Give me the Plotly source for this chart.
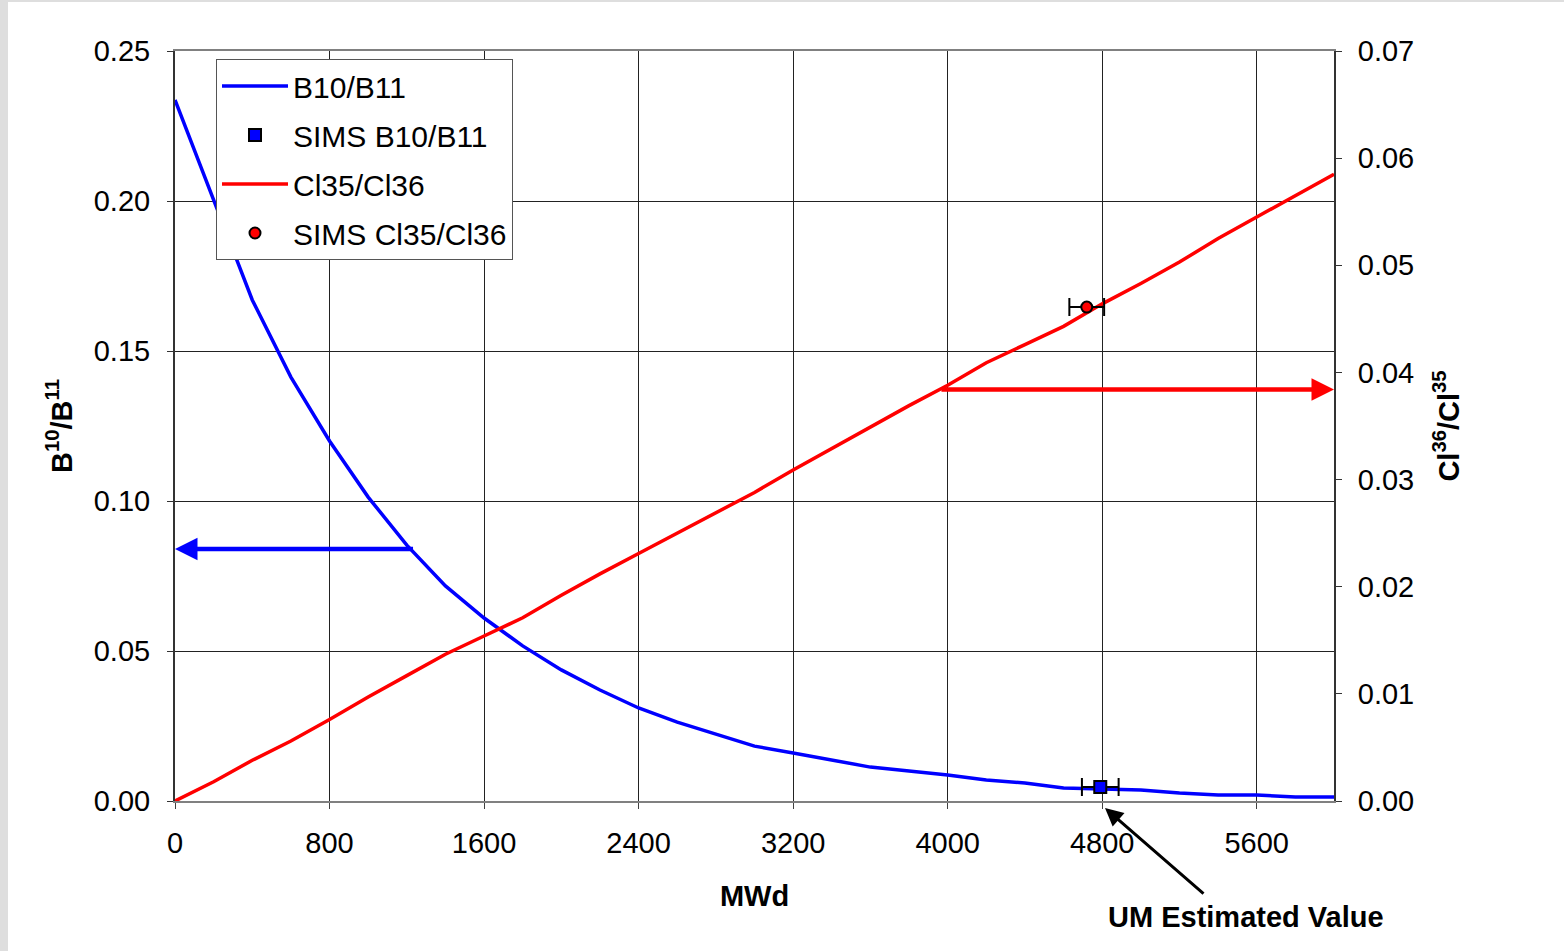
import plotly.graph_objects as go

# ---- data ----
mwd = [0, 200, 400, 600, 800, 1000, 1200, 1400, 1600, 1800, 2000, 2200, 2400, 2600, 2800,
       3000, 3200, 3400, 3600, 3800, 4000, 4200, 4400, 4600, 4800, 5000, 5200, 5400, 5600,
       5800, 6000]
b10_b11 = [0.2337, 0.200, 0.167, 0.1413, 0.120, 0.1013, 0.0853, 0.0717, 0.061, 0.0517,
           0.0437, 0.037, 0.031, 0.0263, 0.0223, 0.0183, 0.016, 0.0137, 0.0113, 0.010,
           0.0087, 0.007, 0.006, 0.0043, 0.004, 0.0037, 0.0027, 0.002, 0.002, 0.0013, 0.0013]
cl_ratio = [0.0, 0.0018, 0.0038, 0.0056, 0.0076, 0.0097, 0.0117, 0.0137, 0.0154, 0.0171,
            0.0192, 0.0212, 0.0231, 0.0250, 0.0269, 0.0288, 0.0309, 0.0329, 0.0349, 0.0369,
            0.0388, 0.0409, 0.0426, 0.0443, 0.0464, 0.0483, 0.0503, 0.0525, 0.0545, 0.0565,
            0.0585]
sims_b_x = [4790]
sims_b_y = [0.0047]
sims_b_err = [95]
sims_cl_x = [4720]
sims_cl_y = [0.0461]
sims_cl_err = [90]

x_ticks = [0, 800, 1600, 2400, 3200, 4000, 4800, 5600]

FONT = "Liberation Sans, Arial, sans-serif"
FS = 29
FSL = 30

fig = go.Figure()
fig.add_trace(go.Scatter(x=mwd, y=b10_b11, mode="lines", name="B10/B11", legendgroup="a",
                         line=dict(color="#0000FF", width=3.5)))
fig.add_trace(go.Scatter(x=sims_b_x, y=sims_b_y, mode="markers", name="SIMS B10/B11",
                         legendgroup="b",
                         marker=dict(symbol="square", color="#0000FF", size=12,
                                     line=dict(color="black", width=2)),
                         error_x=dict(type="data", array=sims_b_err, color="black",
                                      thickness=2, width=9)))
fig.add_trace(go.Scatter(x=mwd, y=cl_ratio, mode="lines", name="Cl35/Cl36", yaxis="y2",
                         legendgroup="c",
                         line=dict(color="#FF0000", width=3.5)))
fig.add_trace(go.Scatter(x=sims_cl_x, y=sims_cl_y, mode="markers", name="SIMS Cl35/Cl36",
                         yaxis="y2", legendgroup="d",
                         marker=dict(symbol="circle", color="#FF0000", size=11,
                                     line=dict(color="black", width=2)),
                         error_x=dict(type="data", array=sims_cl_err, color="black",
                                      thickness=2, width=9)))

W, H = 1564, 951
L, R, T, B = 175, 230, 51, 150
pw, ph = W - L - R, H - T - B


def px_x(p):
    return (p - L) / pw


def px_y(p):
    return (H - B - p) / ph


annotations = [
    dict(x=0, y=0.084, xref="x", yref="y", ax=1240, ay=0.084, axref="x", ayref="y",
         text="", showarrow=True, arrowhead=2, arrowsize=1.0, arrowwidth=4.5,
         arrowcolor="#0000FF"),
    dict(x=6000, y=0.0384, xref="x", yref="y2", ax=3960, ay=0.0384, axref="x", ayref="y2",
         text="", showarrow=True, arrowhead=2, arrowsize=1.0, arrowwidth=4.5,
         arrowcolor="#FF0000"),
    dict(x=px_x(1105), y=px_y(808), xref="paper", yref="paper", ax=100, ay=87,
         text="", showarrow=True, arrowhead=2, arrowsize=1.2, arrowwidth=3,
         arrowcolor="black"),
    dict(x=px_x(1246), y=px_y(917), xref="paper", yref="paper", showarrow=False,
         text="<b>UM Estimated Value</b>", font=dict(family=FONT, size=FS, color="black"),
         xanchor="center", yanchor="middle"),
]

shapes = [
    dict(type="rect", xref="paper", yref="paper", x0=px_x(0), x1=px_x(8),
         y0=px_y(H), y1=px_y(0), fillcolor="#dedede", line=dict(width=0), layer="below"),
    dict(type="rect", xref="paper", yref="paper", x0=px_x(0), x1=px_x(W),
         y0=px_y(2), y1=px_y(0), fillcolor="#dedede", line=dict(width=0), layer="below"),
]

fig.update_layout(
    width=W, height=H,
    margin=dict(l=L, r=R, t=T, b=B, pad=0),
    paper_bgcolor="white", plot_bgcolor="white",
    font=dict(family=FONT, size=FS, color="black"),
    showlegend=True,
    legend=dict(x=px_x(216), y=px_y(59), xanchor="left", yanchor="top",
                bgcolor="white", bordercolor="#555555", borderwidth=1,
                font=dict(family=FONT, size=FSL, color="black"),
                tracegroupgap=7, itemwidth=66),
    xaxis=dict(range=[0, 6000], tickvals=x_ticks, showgrid=True, gridcolor="#222222",
               gridwidth=1, zeroline=False, showline=True, linecolor="#808080", linewidth=2,
               mirror=True, ticks="outside", ticklen=6, tickcolor="#404040",
               ticklabelstandoff=9,
               title=dict(text="<b>MWd</b>", standoff=28,
                          font=dict(family=FONT, size=FS, color="black"))),
    yaxis=dict(range=[0, 0.25], dtick=0.05, tick0=0, tickformat=".2f", showgrid=True,
               gridcolor="#222222", gridwidth=1, zeroline=False, showline=True,
               linecolor="#333333", linewidth=2, ticks="outside", ticklen=6,
               tickcolor="#333333", ticklabelstandoff=11,
               title=dict(text="<b>B<sup>10</sup>/B<sup>11</sup></b>", standoff=13,
                          font=dict(family=FONT, size=FS, color="black"))),
    yaxis2=dict(range=[0, 0.07], dtick=0.01, tick0=0, tickformat=".2f", overlaying="y",
                side="right", showgrid=False, zeroline=False, showline=True,
                linecolor="#333333", linewidth=2, ticks="outside", ticklen=6,
                tickcolor="#333333", ticklabelstandoff=10,
                title=dict(text="<b>Cl<sup>36</sup>/Cl<sup>35</sup></b>", standoff=25,
                           font=dict(family=FONT, size=FS, color="black"))),
    annotations=annotations,
    shapes=shapes,
)

fig.write_html("out.html", config={"displayModeBar": False},
               post_script="document.body.style.margin='0px';")
